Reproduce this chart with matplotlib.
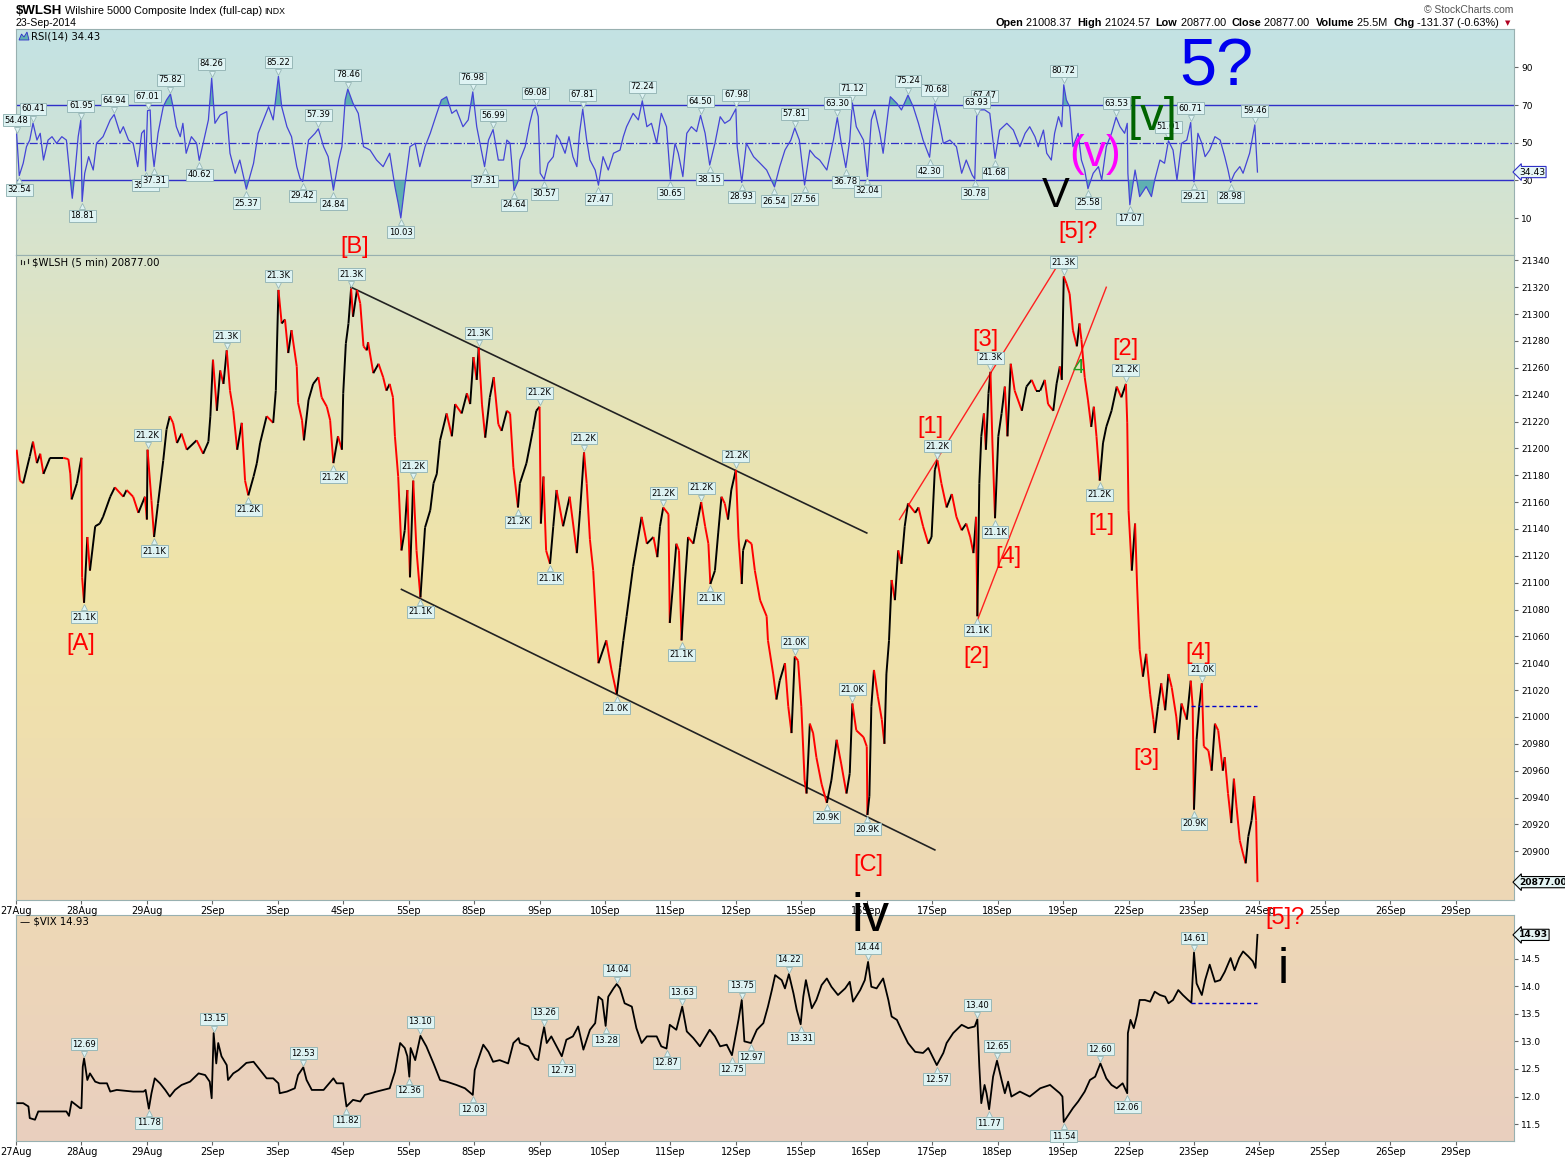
import matplotlib
matplotlib.use("Agg")
import matplotlib.pyplot as plt
import numpy as np
from matplotlib.collections import LineCollection
from matplotlib.colors import LinearSegmentedColormap
from matplotlib.transforms import offset_copy
from matplotlib.patches import Polygon

plt.rcParams["font.family"] = ["DejaVu Sans"]

W, H = 1565, 1157

# -- Data (x = trading-day index, 27Aug = 0) ----------------------------------
DATES = ["27Aug", "28Aug", "29Aug", "2Sep", "3Sep", "4Sep", "5Sep", "8Sep", "9Sep",
         "10Sep", "11Sep", "12Sep", "15Sep", "16Sep", "17Sep", "18Sep", "19Sep",
         "22Sep", "23Sep", "24Sep", "25Sep", "26Sep", "29Sep"]

PRICE = [
    (0.01, 21199), (0.06, 21176), (0.11, 21174), (0.21, 21194), (0.26, 21205), (0.32, 21189),
    (0.37, 21196), (0.42, 21181), (0.52, 21193), (0.72, 21193), (0.80, 21192), (0.83, 21181),
    (0.85, 21162), (0.93, 21174), (1.00, 21193), (1.01, 21104), (1.04, 21085), (1.09, 21134),
    (1.13, 21109), (1.21, 21142), (1.28, 21144), (1.33, 21149), (1.44, 21164), (1.51, 21171),
    (1.64, 21164), (1.69, 21169), (1.79, 21164), (1.87, 21152), (1.97, 21164), (2.00, 21147),
    (2.01, 21199), (2.07, 21161), (2.11, 21134), (2.17, 21159), (2.25, 21191), (2.30, 21214),
    (2.35, 21224), (2.40, 21219), (2.46, 21204), (2.53, 21211), (2.61, 21199), (2.76, 21206),
    (2.86, 21196), (2.94, 21205), (2.97, 21224), (3.01, 21266), (3.07, 21228), (3.12, 21258),
    (3.17, 21248), (3.22, 21273), (3.27, 21243), (3.32, 21228), (3.38, 21199), (3.45, 21219),
    (3.50, 21176), (3.55, 21165), (3.63, 21179), (3.68, 21189), (3.73, 21204), (3.83, 21224),
    (3.93, 21219), (3.97, 21243), (4.01, 21318), (4.06, 21293), (4.11, 21296), (4.16, 21271),
    (4.21, 21288), (4.29, 21261), (4.31, 21234), (4.37, 21221), (4.40, 21206), (4.47, 21236),
    (4.54, 21248), (4.62, 21253), (4.67, 21238), (4.75, 21231), (4.80, 21221), (4.85, 21189),
    (4.92, 21209), (4.98, 21199), (5.00, 21241), (5.04, 21278), (5.08, 21293), (5.12, 21319),
    (5.15, 21298), (5.21, 21318), (5.26, 21308), (5.31, 21276), (5.36, 21273), (5.38, 21279),
    (5.46, 21256), (5.54, 21263), (5.61, 21253), (5.66, 21243), (5.71, 21248), (5.76, 21238),
    (5.79, 21209), (5.84, 21179), (5.89, 21124), (5.94, 21139), (5.98, 21169), (6.02, 21104),
    (6.07, 21176), (6.12, 21124), (6.18, 21089), (6.25, 21141), (6.33, 21154), (6.38, 21174),
    (6.43, 21181), (6.48, 21206), (6.58, 21226), (6.66, 21209), (6.71, 21233), (6.81, 21226),
    (6.89, 21241), (6.94, 21233), (6.99, 21268), (7.04, 21251), (7.07, 21275), (7.12, 21233),
    (7.17, 21208), (7.24, 21238), (7.30, 21253), (7.37, 21218), (7.42, 21213), (7.50, 21228),
    (7.55, 21226), (7.60, 21186), (7.67, 21156),
    (7.70, 21174), (7.80, 21189), (7.90, 21214), (7.95, 21228), (8.00, 21231), (8.02, 21144),
    (8.06, 21179), (8.10, 21124), (8.16, 21114), (8.21, 21142), (8.26, 21169), (8.36, 21142),
    (8.46, 21164), (8.57, 21122), (8.62, 21154), (8.68, 21197), (8.72, 21174), (8.77, 21132),
    (8.82, 21109), (8.90, 21040), (9.02, 21057), (9.10, 21035), (9.18, 21017), (9.23, 21037),
    (9.28, 21057), (9.33, 21075), (9.43, 21112), (9.56, 21149), (9.64, 21129), (9.74, 21134),
    (9.80, 21119), (9.84, 21142), (9.89, 21156), (9.97, 21151), (9.99, 21070), (10.04, 21099),
    (10.09, 21129), (10.13, 21124), (10.17, 21057), (10.22, 21099), (10.27, 21134), (10.35, 21129),
    (10.40, 21142), (10.47, 21160), (10.53, 21142), (10.58, 21129), (10.61, 21099), (10.68, 21109),
    (10.73, 21137), (10.78, 21164), (10.83, 21159), (10.88, 21147), (10.93, 21169), (11.00, 21184),
    (11.04, 21134), (11.09, 21099), (11.11, 21124), (11.16, 21132), (11.24, 21129), (11.29, 21109),
    (11.37, 21087), (11.47, 21075), (11.49, 21057), (11.57, 21032), (11.62, 21013), (11.67, 21027),
    (11.75, 21040), (11.80, 21008), (11.85, 20988), (11.90, 21045), (11.95, 21042), (12.00, 21008),
    (12.05, 20953), (12.08, 20943), (12.13, 20995), (12.18, 20988), (12.23, 20970), (12.31, 20950),
    (12.39, 20936), (12.46, 20953), (12.54, 20983), (12.61, 20965), (12.69, 20943), (12.74, 20958),
    (12.78, 21010), (12.84, 20990), (12.95, 20985), (13.00, 20978), (13.01, 20927), (13.04, 20941),
    (13.07, 21008), (13.11, 21035), (13.17, 21015), (13.23, 20998), (13.27, 20980), (13.30, 21032),
    (13.34, 21057), (13.38, 21102), (13.43, 21087), (13.48, 21124), (13.53, 21114), (13.58, 21142),
    (13.63, 21159), (13.74, 21152), (13.79, 21156), (13.86, 21142), (13.94, 21129), (13.99, 21134),
    (14.04, 21184), (14.08, 21191), (14.14, 21174), (14.22, 21156), (14.30, 21166), (14.37, 21149),
    (14.45, 21139), (14.52, 21144), (14.58, 21134), (14.63, 21122), (14.67, 21149), (14.69, 21075),
    (14.72, 21174), (14.75, 21209), (14.79, 21226), (14.82, 21199), (14.86, 21241), (14.89, 21257),
    (14.92, 21204), (14.96, 21148), (15.01, 21209), (15.06, 21226), (15.11, 21246), (15.15, 21209),
    (15.20, 21263), (15.26, 21243), (15.37, 21228), (15.44, 21246), (15.52, 21251), (15.59, 21243),
    (15.65, 21243), (15.72, 21251), (15.77, 21233), (15.85, 21228), (15.90, 21248), (15.95, 21261),
    (15.98, 21251), (16.01, 21328), (16.05, 21323), (16.10, 21315), (16.15, 21288), (16.21, 21276),
    (16.25, 21293), (16.28, 21281), (16.33, 21253), (16.38, 21236), (16.43, 21216), (16.47, 21231),
    (16.51, 21209), (16.56, 21176), (16.61, 21204), (16.66, 21216), (16.74, 21228), (16.82, 21246),
    (16.89, 21238), (16.96, 21248), (16.98, 21219), (17.00, 21154), (17.05, 21109), (17.10, 21144),
    (17.13, 21099), (17.17, 21050), (17.22, 21030), (17.27, 21047), (17.33, 21017), (17.38, 20998),
    (17.40, 20988), (17.45, 21008), (17.50, 21025), (17.56, 21005), (17.61, 21032), (17.66, 21022),
    (17.73, 21000), (17.76, 20983), (17.81, 21010), (17.89, 20998), (17.95, 21027), (17.98, 21008),
    (18.00, 20931), (18.04, 20983), (18.08, 21008), (18.12, 21025), (18.15, 20978), (18.22, 20975),
    (18.27, 20960), (18.32, 20995), (18.37, 20990), (18.44, 20960), (18.47, 20970), (18.52, 20943),
    (18.57, 20921), (18.61, 20954), (18.65, 20933), (18.70, 20908), (18.75, 20898), (18.79, 20891),
    (18.83, 20911), (18.88, 20923), (18.92, 20941), (18.95, 20923), (18.97, 20877),
]

RSI = [
    (0.01, 54.48), (0.05, 32.54), (0.11, 39.1), (0.16, 47.9), (0.21, 51.4), (0.26, 60.41),
    (0.32, 51.4), (0.37, 55.0), (0.42, 40.8), (0.49, 51.4), (0.55, 53.2), (0.62, 49.7),
    (0.70, 53.2), (0.77, 51.4), (0.83, 30.2), (0.86, 20.5), (0.90, 33.8), (0.95, 53.2),
    (0.99, 61.95), (1.01, 18.81), (1.05, 33.8), (1.11, 42.6), (1.18, 35.5), (1.23, 49.7),
    (1.33, 53.2), (1.44, 62.1), (1.50, 64.94), (1.59, 55.0), (1.64, 58.5), (1.72, 51.4),
    (1.79, 49.7), (1.86, 37.3), (1.92, 55.0), (1.96, 56.7), (1.98, 35.03), (2.01, 67.01),
    (2.05, 67.4), (2.07, 49.7), (2.11, 37.31), (2.17, 55.0), (2.25, 69.1), (2.30, 72.7),
    (2.36, 75.82), (2.40, 69.1), (2.45, 58.5), (2.51, 53.2), (2.55, 60.3), (2.60, 44.4),
    (2.68, 53.2), (2.76, 49.7), (2.80, 40.62), (2.86, 49.7), (2.94, 62.1), (2.99, 84.26),
    (3.04, 60.3), (3.12, 64.7), (3.22, 66.5), (3.27, 44.4), (3.35, 33.8), (3.42, 40.8),
    (3.52, 25.37), (3.63, 39.1), (3.70, 55.0), (3.78, 62.1), (3.86, 69.1), (3.93, 62.1),
    (4.01, 85.22), (4.06, 69.1), (4.14, 58.5), (4.21, 53.2), (4.29, 37.3), (4.34, 31.1),
    (4.38, 29.42), (4.47, 51.4), (4.57, 55.0), (4.62, 57.39), (4.70, 47.9), (4.77, 42.6),
    (4.85, 24.84), (4.93, 40.8), (4.98, 47.9), (5.03, 72.7), (5.07, 78.46), (5.15, 70.9),
    (5.23, 65.6), (5.31, 47.9), (5.41, 46.1), (5.51, 40.8), (5.61, 37.3), (5.71, 44.4),
    (5.79, 26.7), (5.84, 17.9), (5.88, 10.03), (5.94, 26.7), (6.02, 47.9), (6.10, 49.7),
    (6.17, 37.3), (6.25, 47.9), (6.33, 55.0), (6.43, 65.6), (6.50, 72.7), (6.58, 74.4),
    (6.66, 65.6), (6.73, 67.4), (6.83, 58.5), (6.91, 62.1), (6.98, 76.98), (7.04, 58.5),
    (7.12, 44.4), (7.16, 37.31), (7.22, 51.4), (7.29, 56.99), (7.37, 40.8), (7.45, 40.8),
    (7.50, 51.4), (7.55, 49.7), (7.61, 24.64), (7.68, 30.2),
    (7.70, 40.8), (7.78, 47.9), (7.85, 60.3), (7.90, 67.4), (7.94, 69.08), (7.98, 63.8),
    (8.01, 33.8), (8.07, 30.57), (8.13, 39.1), (8.21, 42.6), (8.26, 54.1), (8.31, 51.4),
    (8.39, 44.4), (8.45, 53.2), (8.51, 42.6), (8.57, 37.3), (8.61, 55.0), (8.66, 67.81),
    (8.72, 51.4), (8.77, 40.8), (8.85, 35.5), (8.90, 27.47), (8.97, 42.6), (9.05, 35.5),
    (9.13, 44.4), (9.23, 46.1), (9.28, 53.2), (9.33, 58.5), (9.43, 65.6), (9.51, 62.1),
    (9.57, 72.24), (9.64, 58.5), (9.71, 60.3), (9.79, 49.7), (9.86, 65.6), (9.94, 58.5),
    (10.00, 30.65), (10.07, 49.7), (10.12, 44.4), (10.19, 32.0), (10.25, 55.0), (10.32, 58.5),
    (10.40, 55.9), (10.46, 64.50), (10.53, 55.0), (10.60, 38.15), (10.68, 49.7), (10.76, 63.8),
    (10.83, 60.3), (10.91, 62.1), (11.00, 67.98), (11.02, 47.9), (11.09, 28.93), (11.16, 49.7),
    (11.27, 42.6), (11.37, 39.1), (11.47, 35.5), (11.59, 26.54), (11.67, 37.3), (11.75, 46.1),
    (11.84, 51.4), (11.90, 57.81), (11.97, 51.4), (12.03, 33.8), (12.05, 27.56), (12.13, 46.1),
    (12.21, 42.6), (12.28, 40.8), (12.39, 35.5), (12.49, 51.4), (12.55, 63.30), (12.61, 49.7),
    (12.68, 36.78), (12.74, 51.4), (12.78, 71.12), (12.84, 58.5), (12.95, 51.4), (13.01, 32.04),
    (13.07, 62.1), (13.12, 67.4), (13.20, 55.0), (13.25, 44.4), (13.33, 67.4), (13.36, 74.4),
    (13.46, 70.9), (13.53, 67.4), (13.63, 75.24), (13.71, 69.1), (13.79, 60.3), (13.86, 51.4),
    (13.96, 42.30), (14.04, 70.68), (14.12, 58.5), (14.17, 49.7), (14.27, 51.4), (14.37, 47.9),
    (14.45, 33.8), (14.52, 40.8), (14.61, 32.9), (14.65, 30.78), (14.68, 63.93), (14.73, 67.4),
    (14.80, 67.47), (14.88, 65.6), (14.96, 41.68), (15.03, 56.7), (15.14, 60.3), (15.24, 56.7),
    (15.34, 47.9), (15.42, 55.0), (15.49, 58.5), (15.57, 53.2), (15.62, 47.9),
    (15.65, 51.4), (15.70, 56.7), (15.75, 44.4), (15.82, 40.8), (15.87, 55.0), (15.93, 63.8),
    (15.98, 58.5), (16.01, 80.72), (16.05, 72.7), (16.10, 69.1), (16.15, 47.9), (16.23, 55.0),
    (16.28, 40.8), (16.33, 35.5), (16.38, 25.58), (16.46, 33.8), (16.54, 37.3), (16.59, 30.2),
    (16.66, 47.9), (16.74, 55.0), (16.81, 63.53), (16.87, 58.5), (16.94, 55.0), (16.98, 60.3),
    (16.99, 33.8), (17.02, 17.07), (17.10, 35.5), (17.17, 21.4), (17.27, 26.7), (17.35, 21.4),
    (17.40, 30.2), (17.48, 40.8), (17.55, 39.1), (17.61, 51.01), (17.68, 46.1), (17.74, 30.2),
    (17.81, 49.7), (17.89, 51.4), (17.95, 60.71), (18.00, 29.21), (18.06, 55.0), (18.12, 49.7),
    (18.17, 42.6), (18.24, 46.1), (18.32, 53.2), (18.40, 51.4), (18.47, 42.6), (18.52, 35.5),
    (18.56, 28.98), (18.62, 33.8), (18.70, 37.3), (18.75, 33.8), (18.80, 39.1), (18.85, 44.4),
    (18.93, 59.46), (18.97, 34.43),
]

VIX = [
    (0.02, 11.88), (0.11, 11.88), (0.19, 11.82), (0.21, 11.61), (0.29, 11.58), (0.34, 11.73),
    (0.77, 11.73), (0.81, 11.65), (0.85, 11.91), (0.98, 11.79), (1.00, 11.79), (1.02, 12.54),
    (1.04, 12.69), (1.09, 12.30), (1.13, 12.42), (1.21, 12.27), (1.28, 12.24), (1.39, 12.24),
    (1.44, 12.09), (1.54, 12.12), (1.79, 12.09), (1.95, 12.09), (1.98, 12.12), (2.03, 11.78),
    (2.07, 12.06), (2.12, 12.33), (2.20, 12.24), (2.28, 12.12), (2.35, 12.00), (2.43, 12.12),
    (2.53, 12.21), (2.66, 12.27), (2.79, 12.42), (2.89, 12.39), (2.96, 12.27), (2.99, 11.97),
    (3.02, 13.15), (3.06, 12.60), (3.09, 12.97), (3.14, 12.73), (3.22, 12.57), (3.24, 12.30),
    (3.32, 12.42), (3.40, 12.48), (3.52, 12.61), (3.63, 12.63), (3.75, 12.45), (3.83, 12.33),
    (3.93, 12.33), (4.01, 12.24), (4.03, 12.06), (4.14, 12.09), (4.26, 12.15), (4.31, 12.39),
    (4.39, 12.53), (4.44, 12.30), (4.52, 12.12), (4.70, 12.12), (4.85, 12.33), (4.90, 12.24),
    (5.00, 12.24), (5.05, 11.82), (5.15, 11.94), (5.26, 11.91), (5.33, 12.03), (5.51, 12.09),
    (5.71, 12.15), (5.79, 12.45), (5.87, 12.97), (5.94, 12.88), (5.98, 12.73), (6.01, 12.36),
    (6.03, 12.88), (6.10, 12.66), (6.18, 13.10), (6.27, 12.91), (6.38, 12.60), (6.48, 12.30),
    (6.58, 12.27), (6.73, 12.21), (6.86, 12.15), (6.98, 12.03), (7.01, 12.48), (7.06, 12.66),
    (7.14, 12.94), (7.22, 12.81), (7.29, 12.63), (7.39, 12.66), (7.52, 12.60), (7.60, 12.97),
    (7.68, 13.06),
    (7.70, 12.97), (7.83, 12.91), (7.93, 12.69), (7.98, 12.66), (8.03, 13.03), (8.07, 13.26),
    (8.11, 12.97), (8.18, 13.09), (8.26, 12.91), (8.34, 12.73), (8.41, 13.03), (8.51, 13.09),
    (8.59, 13.27), (8.67, 12.85), (8.77, 13.21), (8.85, 13.33), (8.90, 13.81), (8.96, 13.75),
    (9.01, 13.28), (9.05, 13.81), (9.13, 13.96), (9.18, 14.04), (9.23, 13.96), (9.30, 13.69),
    (9.41, 13.63), (9.48, 13.24), (9.56, 12.97), (9.64, 13.09), (9.79, 13.09), (9.86, 12.91),
    (9.94, 12.87), (9.99, 13.30), (10.09, 13.21), (10.18, 13.63), (10.25, 13.18), (10.35, 13.06),
    (10.45, 12.91), (10.60, 13.21), (10.68, 13.09), (10.76, 12.91), (10.86, 12.94), (10.94, 12.75),
    (11.04, 13.39), (11.09, 13.75), (11.13, 13.00), (11.23, 12.97), (11.32, 13.21), (11.42, 13.33),
    (11.49, 13.63), (11.55, 13.93), (11.60, 14.20), (11.70, 14.11), (11.75, 13.96), (11.81, 14.22),
    (11.88, 13.87), (11.93, 13.57), (11.99, 13.31), (12.03, 13.81), (12.07, 14.11), (12.16, 13.60),
    (12.23, 13.75), (12.31, 14.02), (12.39, 14.14), (12.46, 13.99), (12.56, 13.84), (12.67, 13.96),
    (12.74, 14.08), (12.79, 13.72), (12.90, 13.93), (12.97, 14.11), (13.02, 14.44), (13.07, 13.99),
    (13.15, 13.96), (13.25, 14.14), (13.33, 13.75), (13.38, 13.45), (13.46, 13.39), (13.53, 13.21),
    (13.63, 12.97), (13.74, 12.81), (13.86, 12.79), (13.94, 12.88), (14.07, 12.57), (14.17, 12.79),
    (14.22, 12.97), (14.32, 13.15), (14.45, 13.30), (14.55, 13.24), (14.65, 13.27), (14.69, 13.40),
    (14.72, 12.54), (14.75, 11.88), (14.80, 12.21), (14.83, 12.06), (14.87, 11.77), (14.93, 12.36),
    (14.99, 12.65), (15.06, 12.30), (15.11, 12.06), (15.16, 12.27), (15.21, 12.00), (15.34, 12.09),
    (15.49, 12.00), (15.62, 12.12),
    (15.65, 12.15), (15.80, 12.21), (15.95, 12.06), (15.99, 12.00), (16.01, 11.54), (16.10, 11.70),
    (16.15, 11.79), (16.23, 11.91), (16.33, 12.09), (16.41, 12.30), (16.49, 12.36), (16.57, 12.60),
    (16.66, 12.33), (16.74, 12.21), (16.82, 12.15), (16.91, 12.24), (16.98, 12.06), (16.99, 13.15),
    (17.03, 13.39), (17.08, 13.24), (17.13, 13.48), (17.17, 13.75), (17.25, 13.75), (17.33, 13.72),
    (17.40, 13.90), (17.48, 13.84), (17.56, 13.81), (17.61, 13.69), (17.68, 13.75), (17.76, 13.93),
    (17.83, 13.84), (17.91, 13.75), (17.96, 13.70), (18.00, 14.61), (18.04, 14.05), (18.12, 13.84),
    (18.17, 14.11), (18.24, 14.39), (18.32, 14.08), (18.40, 14.11), (18.47, 14.26), (18.56, 14.51),
    (18.62, 14.29), (18.69, 14.51), (18.75, 14.63), (18.83, 14.54), (18.90, 14.45), (18.94, 14.33),
    (18.97, 14.93),
]

# callout positions (time, label above the point?)
PRICE_CALLOUTS = [
    (1.04, False), (2.01, True), (2.11, False), (3.22, True), (3.55, False), (4.01, True),
    (4.85, False), (5.12, True), (6.07, True), (6.18, False), (7.07, True), (7.67, False),
    (8.00, True), (8.16, False), (8.68, True), (9.18, False), (9.89, True), (10.17, False),
    (10.47, True), (10.61, False), (11.00, True), (11.90, True), (12.39, False), (12.78, True),
    (13.01, False), (14.08, True), (14.69, False), (14.89, True), (14.96, False), (16.01, True),
    (16.56, False), (16.96, True), (18.00, False), (18.12, True),
]
RSI_CALLOUTS = [
    (0.01, True), (0.05, False), (0.26, True), (0.99, True), (1.01, False), (1.50, True),
    (1.98, False), (2.01, True), (2.11, False), (2.36, True), (2.80, False), (2.99, True),
    (3.52, False), (4.01, True), (4.38, False), (4.62, True), (4.85, False), (5.07, True),
    (5.88, False), (6.98, True), (7.16, False), (7.29, True), (7.61, False), (7.94, True),
    (8.07, False), (8.66, True), (8.90, False), (9.57, True), (10.00, False), (10.46, True),
    (10.60, False), (11.00, True), (11.09, False), (11.59, False), (11.90, True), (12.05, False),
    (12.55, True), (12.68, False), (12.78, True), (13.01, False), (13.63, True), (13.96, False),
    (14.04, True), (14.65, False), (14.80, True), (14.68, True), (14.96, False), (16.01, True),
    (16.38, False), (16.81, True), (17.02, False), (17.61, True), (17.95, True), (18.00, False),
    (18.56, False), (18.93, True),
]
VIX_CALLOUTS = [
    (1.04, True), (2.03, False), (3.02, True), (4.39, True), (5.05, False), (6.01, False),
    (6.18, True), (6.98, False), (8.07, True), (8.34, False), (9.01, False), (9.18, True),
    (9.94, False), (10.18, True), (10.94, False), (11.09, True), (11.23, False), (11.81, True),
    (11.99, False), (13.02, True), (14.07, False), (14.69, True), (14.87, False), (14.99, True),
    (16.01, False), (16.57, True), (16.98, False), (18.00, True),
]

# trend lines: ((t0, v0), (t1, v1))
CHANNEL_UPPER = ((5.12, 21320), (13.00, 21137))
CHANNEL_LOWER = ((5.89, 21095), (14.04, 20901))
WEDGE_UPPER = ((13.50, 21147), (15.90, 21335))
WEDGE_LOWER = ((14.69, 21072), (16.66, 21320))
PRICE_LEVEL = (17.96, 18.96, 21008.5)
VIX_LEVEL = (17.96, 18.96, 13.70)

# Elliott wave marks: (text, t, value, colour, size)
PRICE_MARKS = [
    ("[A]", 0.99, 21054, "#ff0000", 17), ("[B]", 5.18, 21350, "#ff0000", 17),
    ("[C]", 13.02, 20890, "#ff0000", 17), ("[1]", 13.98, 21216, "#ff0000", 17),
    ("[2]", 14.67, 21045, "#ff0000", 17), ("[3]", 14.82, 21281, "#ff0000", 17),
    ("[4]", 15.17, 21119, "#ff0000", 17), ("4", 16.23, 21260, "#22a022", 15),
    ("[5]?", 16.23, 21361, "#ff0000", 17), ("[2]", 16.96, 21274, "#ff0000", 17),
    ("[1]", 16.58, 21144, "#ff0000", 17), ("[3]", 17.28, 20969, "#ff0000", 17),
    ("[4]", 18.07, 21048, "#ff0000", 17), ("[5]?", 19.39, 20850, "#ff0000", 17),
    ("iv", 13.05, 20851, "#000000", 38),
]
RSI_MARKS = [
    ("V", 15.89, 21.7, "#000000", 30), ("(v)", 16.49, 43.5, "#ff00ff", 32),
    ("[v]", 17.37, 63.1, "#006400", 34), ("5?", 18.35, 89.6, "#0000ee", 48),
]
VIX_MARKS = [("i", 19.36, 14.30, "#000000", 36)]

# -- Style ----------------------------------------------------------------------
BOX_FC = "#def3f3"
BOX_EC = "#98b8b8"
SPINE = "#98b0b0"
XMAX = 22.89

fig = plt.figure(figsize=(W / 100, H / 100), dpi=100)
fig.patch.set_facecolor("white")


def fx(px):
    return px / W


def fy(px):
    return 1 - px / H


def panel(top, bottom, colors):
    ax = fig.add_axes([fx(16), fy(bottom), fx(1514) - fx(16), (bottom - top) / H])
    cmap = LinearSegmentedColormap.from_list("bg", colors)
    ax.imshow(np.linspace(0, 1, 256).reshape(-1, 1), extent=[0, 1, 0, 1], transform=ax.transAxes,
              aspect="auto", cmap=cmap, zorder=0, interpolation="bilinear")
    for s in ax.spines.values():
        s.set_color(SPINE)
    ax.yaxis.tick_right()
    ax.tick_params(axis="y", labelsize=6.5, length=3, color="#666666", pad=2)
    ax.set_xlim(0, XMAX)
    return ax


def callouts(ax, data, spec, fmt, fs=6):
    t_arr, v_arr = data[:, 0], data[:, 1]
    for t, up in spec:
        i = int(np.argmin(np.abs(t_arr - t)))
        t0, v = t_arr[i], v_arr[i]
        d = 1 if up else -1
        tri = offset_copy(ax.transData, fig=fig, x=0, y=3.2 * d, units="points")
        ax.plot(t0, v, marker="v" if up else "^", ms=5, mfc=BOX_FC, mec=BOX_EC, mew=0.6,
                transform=tri, clip_on=False, zorder=6)
        ax.annotate(fmt(v), xy=(t0, v), xytext=(0, 7 * d), textcoords="offset points",
                    ha="center", va="bottom" if up else "top", fontsize=fs,
                    bbox=dict(boxstyle="square,pad=0.18", fc=BOX_FC, ec=BOX_EC, lw=0.7),
                    zorder=7, annotation_clip=False)


def value_tag(ax, val, text, ec, bold):
    ax.annotate(text, xy=(1.0, val), xycoords=("axes fraction", "data"), xytext=(3.5, 0),
                textcoords="offset points", ha="left", va="center", fontsize=6.6,
                fontweight="bold" if bold else "normal",
                bbox=dict(boxstyle="larrow,pad=0.12", fc="#e6f6f6", ec=ec, lw=0.8),
                annotation_clip=False, zorder=9)


def marks(ax, spec):
    for txt, t, v, c, s in spec:
        ax.text(t, v, txt, color=c, fontsize=s, family="Liberation Sans", ha="center",
                va="center", clip_on=False, zorder=10)


price = np.array(PRICE, dtype=float)
rsi = np.array(RSI, dtype=float)
vix = np.array(VIX, dtype=float)

# -- RSI panel ------------------------------------------------------------------
ax_r = panel(29.3, 255, ["#c3e2e4", "#d9e4cb"])
ax_r.set_ylim(-9.6, 110.2)
ax_r.set_yticks([10, 30, 50, 70, 90])
ax_r.tick_params(axis="x", bottom=False, labelbottom=False)
ax_r.axhline(70, color="#2f2fc8", lw=1.0, zorder=2)
ax_r.axhline(30, color="#2f2fc8", lw=1.0, zorder=2)
ax_r.axhline(50, color="#2f2fc8", lw=0.9, ls="-.", zorder=2)
ax_r.fill_between(rsi[:, 0], rsi[:, 1], 70, where=rsi[:, 1] > 70, interpolate=True,
                  color="#5fb0b2", lw=0, zorder=2)
ax_r.fill_between(rsi[:, 0], rsi[:, 1], 30, where=rsi[:, 1] < 30, interpolate=True,
                  color="#5fb0b2", lw=0, zorder=2)
ax_r.plot(rsi[:, 0], rsi[:, 1], color="#4444d6", lw=0.9, zorder=3)
callouts(ax_r, rsi, RSI_CALLOUTS, lambda v: f"{v:.2f}")
value_tag(ax_r, rsi[-1, 1], f"{rsi[-1, 1]:.2f}", "#3030c8", False)
ax_r.text(0.01, 0.97, f"RSI(14) {rsi[-1, 1]:.2f}", transform=ax_r.transAxes, fontsize=7.3,
          va="center", ha="left", zorder=8)
icon = [(19, 40), (21.5, 34), (24, 37), (27, 32), (29, 40)]
fig.patches.append(Polygon([(fx(a), fy(b)) for a, b in icon], closed=True,
                           transform=fig.transFigure, fc="#5fb0b2", ec="#2f2fc8", lw=0.6))
marks(ax_r, RSI_MARKS)

# -- Price panel ----------------------------------------------------------------
ax_p = panel(255, 900, ["#d9e4cb", "#e7e3b6", "#f0e4a8", "#efdfae", "#edd7b6"])
ax_p.set_zorder(3)
ax_p.set_ylim(20863.7, 21344)
ax_p.set_yticks(np.arange(20900, 21341, 20))
ax_p.set_xticks(range(len(DATES)))
ax_p.set_xticklabels(DATES)
ax_p.tick_params(axis="x", labelsize=7, length=3, color="#666666", pad=1.5)

segs = np.stack([price[:-1], price[1:]], axis=1)
cols = ["#000000" if b[1] >= a[1] else "#ff0000" for a, b in zip(price[:-1], price[1:])]
ax_p.add_collection(LineCollection(segs, colors=cols, lw=1.4, zorder=3))

for (t0, v0), (t1, v1) in (CHANNEL_UPPER, CHANNEL_LOWER):
    ax_p.plot([t0, t1], [v0, v1], color="#222222", lw=1.2, zorder=2)
for (t0, v0), (t1, v1) in (WEDGE_UPPER, WEDGE_LOWER):
    ax_p.plot([t0, t1], [v0, v1], color="#ff2020", lw=1.0, zorder=2)
ax_p.plot(PRICE_LEVEL[:2], [PRICE_LEVEL[2]] * 2, color="#0000cc", lw=1.0, ls=(0, (3, 2)), zorder=4)

callouts(ax_p, price, PRICE_CALLOUTS, lambda v: f"{v / 1000:.1f}K")
value_tag(ax_p, price[-1, 1], f"{price[-1, 1]:.2f}", "#000000", True)
ax_p.text(0.0107, 0.989, f"$WLSH (5 min) {price[-1, 1]:.2f}", transform=ax_p.transAxes,
          fontsize=7.3, va="center", ha="left", zorder=8)
for k, (a, b) in enumerate([(0.3, 0.8), (0.2, 0.7), (0.35, 0.9)]):
    ax_p.plot([0.0033 + k * 0.0022] * 2, [0.983 + a * 0.012, 0.983 + b * 0.012],
              transform=ax_p.transAxes, color="#222222", lw=0.8, clip_on=False)
marks(ax_p, PRICE_MARKS)

# -- VIX panel ------------------------------------------------------------------
ax_v = panel(915, 1140.7, ["#eed8b6", "#e9cfbf"])
ax_v.set_zorder(1)
ax_v.set_ylim(11.2, 15.29)
ax_v.set_yticks(np.arange(11.5, 14.6, 0.5))
ax_v.set_yticklabels([f"{v:.1f}" for v in np.arange(11.5, 14.6, 0.5)])
ax_v.set_xticks(range(len(DATES)))
ax_v.set_xticklabels(DATES)
ax_v.tick_params(axis="x", labelsize=7, length=3, color="#666666", pad=1.5)
ax_v.plot(vix[:, 0], vix[:, 1], color="#000000", lw=1.3, zorder=3)
ax_v.plot(VIX_LEVEL[:2], [VIX_LEVEL[2]] * 2, color="#0000cc", lw=1.0, ls=(0, (3, 2)), zorder=4)
callouts(ax_v, vix, VIX_CALLOUTS, lambda v: f"{v:.2f}")
value_tag(ax_v, vix[-1, 1], f"{vix[-1, 1]:.2f}", "#000000", True)
ax_v.text(0.0025, 0.969, f"\u2014 $VIX {vix[-1, 1]:.2f}", transform=ax_v.transAxes,
          fontsize=7.3, va="center", ha="left", zorder=8)
marks(ax_v, VIX_MARKS)

# -- Header ---------------------------------------------------------------------
fig.text(fx(16), fy(11), "$WLSH", fontsize=9.5, weight="bold", family="Liberation Sans", va="center")
fig.text(fx(65), fy(11), "Wilshire 5000 Composite Index (full-cap)", fontsize=7.8,
         family="Liberation Sans", va="center")
fig.text(fx(264), fy(11), "INDX", fontsize=6.3, family="Liberation Sans", va="center")
fig.text(fx(16), fy(23), "23-Sep-2014", fontsize=7.6, family="Liberation Sans", va="center")
fig.text(fx(1513), fy(10), "\u00a9 StockCharts.com", fontsize=7.5, family="Liberation Sans",
         color="#555555", ha="right", va="center")

pieces = [("Open", "bold"), (" 21008.37", "normal"), ("High", "bold"), (" 21024.57", "normal"),
          ("Low", "bold"), (" 20877.00", "normal"), ("Close", "bold"), (" 20877.00", "normal"),
          ("Volume", "bold"), (" 25.5M", "normal"), ("Chg", "bold"), (" -131.37 (-0.63%)", "normal")]
renderer = fig.canvas.get_renderer()
x = 995.0
for s, w in pieces:
    t = fig.text(fx(x), fy(23), s, fontsize=7.8, weight=w, family="Liberation Sans", va="center")
    x += t.get_window_extent(renderer).width + (6 if w == "normal" else 0)
fig.text(fx(x), fy(23), "\u25bc", fontsize=5, color="#b00020", va="center")

fig.savefig("out.png", dpi=100)
